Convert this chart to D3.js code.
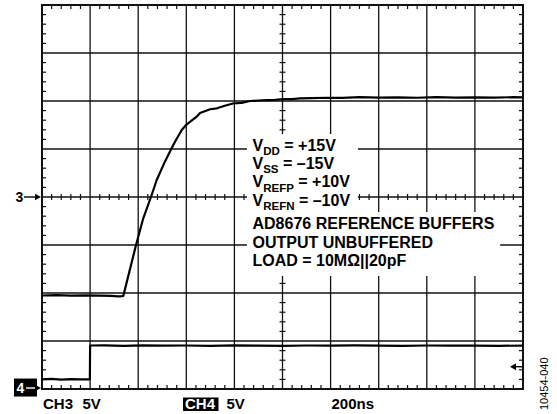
<!DOCTYPE html>
<html><head><meta charset="utf-8">
<script src="https://cdn.jsdelivr.net/npm/d3@7"></script>
<style>html,body{margin:0;padding:0;background:#fff;}svg{display:block;}</style>
</head><body>
<svg id="c" width="557" height="414"></svg>
<script>
// ---- data ----
const timeDomainNs = [0, 2000];          // 10 div x 200 ns
const divDomain = [-4, 4];               // 8 vertical divisions
const voltsPerDiv = 5;
const ch3RefDiv = 0;                     // "3→" marker at center
const ch4RefDiv = -3.98;                 // "4→" marker near bottom
// CH3 (reference buffer output): time ns, volts
const ch3Time = [0, 60, 120, 180, 240, 290, 315, 333, 338, 391, 421, 453, 477, 511, 539, 553, 581, 602, 643, 657, 699, 727, 760, 794, 830, 865, 900, 934, 970, 1002, 1040, 1073, 1120, 1184, 1250, 1320, 1400, 1480, 1560, 1640, 1720, 1800, 1880, 1960, 2000];
const ch3Volt = [-10.26, -10.22, -10.28, -10.24, -10.27, -10.3, -10.36, -10.33, -10.31, -5.0, -2.22, 0, 1.77, 3.68, 5.07, 5.76, 6.98, 7.57, 8.36, 8.75, 9.14, 9.24, 9.5, 9.74, 9.8, 10.0, 10.05, 10.1, 10.12, 10.21, 10.2, 10.28, 10.3, 10.34, 10.33, 10.4, 10.36, 10.38, 10.34, 10.4, 10.36, 10.38, 10.35, 10.4, 10.38];
// CH4 (input step): time ns, volts
const ch4Time = [0, 40, 80, 120, 160, 199, 200, 260, 340, 420, 500, 600, 700, 800, 900, 1000, 1100, 1200, 1300, 1400, 1500, 1600, 1700, 1800, 1900, 2000];
const ch4Volt = [0.9, 0.95, 0.88, 0.93, 0.9, 0.9, 4.43, 4.45, 4.4, 4.44, 4.41, 4.43, 4.4, 4.44, 4.42, 4.4, 4.43, 4.41, 4.44, 4.42, 4.4, 4.43, 4.41, 4.42, 4.4, 4.42];
const noteLinesA = [["V","DD"," = +15V"],["V","SS"," = \u201315V"],["V","REFP"," = +10V"],["V","REFN"," = \u201310V"]];
const noteLinesB = ["AD8676 REFERENCE BUFFERS","OUTPUT UNBUFFERED","LOAD = 10M\u03A9||20pF"];
const bottomLabels = {ch3: "CH3", ch3Scale: "5V", ch4: "CH4", ch4Scale: "5V", time: "200ns"};
const figId = "10454-040";

// ---- layout ----
const L = 42, R = 523, T = 5, B = 389;
const svg = d3.select("#c");
const x = d3.scaleLinear().domain(timeDomainNs).range([L, R]);
const y = d3.scaleLinear().domain(divDomain).range([B, T]);
const ink = "#111";
const font = "'Liberation Sans', Arial, Helvetica, sans-serif";

const g = svg.append("g");
// major grid
const xt = d3.range(0, 2001, 200), yt = d3.range(-4, 5, 1);
g.selectAll(".vg").data(xt).join("line").attr("x1", d => x(d)).attr("x2", d => x(d)).attr("y1", T).attr("y2", B)
  .attr("stroke", ink).attr("stroke-width", 1.3);
g.selectAll(".hg").data(yt).join("line").attr("y1", d => y(d)).attr("y2", d => y(d)).attr("x1", L).attr("x2", R)
  .attr("stroke", ink).attr("stroke-width", 1.3);
// minor ticks
const xm = d3.range(0, 2001, 40).filter(d => d % 200 !== 0);
const ym = d3.range(-4, 4.001, 0.2).map(d => +d.toFixed(1)).filter(d => Math.abs(d - Math.round(d)) > 1e-6);
const tk = 4;
const tg = g.append("g").attr("stroke", ink).attr("stroke-width", 1.2);
xm.forEach(d => {
  tg.append("line").attr("x1", x(d)).attr("x2", x(d)).attr("y1", T).attr("y2", T + tk);
  tg.append("line").attr("x1", x(d)).attr("x2", x(d)).attr("y1", B).attr("y2", B - tk);
  tg.append("line").attr("x1", x(d)).attr("x2", x(d)).attr("y1", y(0) - 3).attr("y2", y(0) + 3);
});
ym.forEach(d => {
  tg.append("line").attr("y1", y(d)).attr("y2", y(d)).attr("x1", L).attr("x2", L + tk);
  tg.append("line").attr("y1", y(d)).attr("y2", y(d)).attr("x1", R).attr("x2", R - tk);
  tg.append("line").attr("y1", y(d)).attr("y2", y(d)).attr("x1", x(1000) - 3).attr("x2", x(1000) + 3);
});

// annotation text
const fs = 16, tx = 252.5;
const basesA = [150.5, 168.8, 187.2, 205.5];
const basesB = [228.8, 247.5, 266.3];
const ann = svg.append("g").attr("font-family", font).attr("font-weight", "bold").attr("fill", "#000");
const tA = noteLinesA.map((p, i) => {
  const t = ann.append("text").attr("x", tx).attr("y", basesA[i]).attr("font-size", fs);
  t.append("tspan").text(p[0]);
  t.append("tspan").attr("dy", 4.5).attr("font-size", 11.5).text(p[1]);
  t.append("tspan").attr("dy", -4.5).text(p[2]);
  return t;
});
const tB = noteLinesB.map((s, i) => ann.append("text").attr("x", tx).attr("y", basesB[i]).attr("font-size", fs).text(s));
const wA = d3.max(tA, t => t.node().getBBox().width);
const wB = d3.max(tB, t => t.node().getBBox().width);
// white backgrounds behind the notes (covering grid)
g.append("rect").attr("x", tx - 5.5).attr("y", 134).attr("width", wA + 13).attr("height", 78).attr("fill", "#fff");
g.append("rect").attr("x", tx - 5.5).attr("y", 212).attr("width", wB + 11).attr("height", 64).attr("fill", "#fff");

// border
g.append("rect").attr("x", L).attr("y", T).attr("width", R - L).attr("height", B - T)
  .attr("fill", "none").attr("stroke", ink).attr("stroke-width", 2);

// traces
const line = d3.line().x(d => x(d[0])).y(d => y(d[1]));
const ch3 = ch3Time.map((t, i) => [t, ch3Volt[i] / voltsPerDiv + ch3RefDiv]);
const ch4 = ch4Time.map((t, i) => [t, ch4Volt[i] / voltsPerDiv + ch4RefDiv]);
[ch3, ch4].forEach(d => svg.append("path").datum(d).attr("d", line).attr("fill", "none")
  .attr("stroke", "#000").attr("stroke-width", 2.2).attr("stroke-linejoin", "round"));

// channel markers
const mk = svg.append("g").attr("font-family", font).attr("font-weight", "bold");
const y3 = y(ch3RefDiv);
mk.append("text").attr("x", 15.5).attr("y", y3 + 5).attr("font-size", 14).text("3");
mk.append("line").attr("x1", 24).attr("x2", 36).attr("y1", y3).attr("y2", y3).attr("stroke", "#000").attr("stroke-width", 1.4);
mk.append("path").attr("d", `M35,${y3 - 3.2}L41,${y3}L35,${y3 + 3.2}Z`).attr("fill", "#000");
const y4 = y(ch4RefDiv);
mk.append("rect").attr("x", 14).attr("y", y4 - 9.5).attr("width", 23).attr("height", 18).attr("fill", "#000");
mk.append("text").attr("x", 16.5).attr("y", y4 + 5).attr("font-size", 14).attr("fill", "#fff").text("4");
mk.append("line").attr("x1", 26).attr("x2", 36).attr("y1", y4).attr("y2", y4).attr("stroke", "#fff").attr("stroke-width", 1.4);
mk.append("path").attr("d", `M35,${y4 - 3.2}L41,${y4}L35,${y4 + 3.2}Z`).attr("fill", "#000");
// right-side arrow (CH4 end marker)
const yr = 366.7;
mk.append("path").attr("d", `M510,${yr}L516,${yr - 3.5}L516,${yr + 3.5}Z`).attr("fill", "#000");
mk.append("line").attr("x1", 515).attr("x2", R).attr("y1", yr).attr("y2", yr).attr("stroke", "#000").attr("stroke-width", 1.4);

// bottom labels
const bl = svg.append("g").attr("font-family", font).attr("font-weight", "bold").attr("font-size", 15);
bl.append("text").attr("x", 43).attr("y", 408.5).text(bottomLabels.ch3);
bl.append("text").attr("x", 82.5).attr("y", 408.5).text(bottomLabels.ch3Scale);
bl.append("rect").attr("x", 183).attr("y", 397.5).attr("width", 35.5).attr("height", 13.5).attr("fill", "#000");
bl.append("text").attr("x", 185).attr("y", 408.5).attr("fill", "#fff").text(bottomLabels.ch4);
bl.append("text").attr("x", 226.5).attr("y", 408.5).text(bottomLabels.ch4Scale);
bl.append("text").attr("x", 331.5).attr("y", 408.5).text(bottomLabels.time);

// figure id, rotated
svg.append("text").attr("transform", "translate(548,410) rotate(-90)").attr("font-family", font)
  .attr("font-size", 11).attr("fill", "#000").text(figId);
</script>
</body></html>
